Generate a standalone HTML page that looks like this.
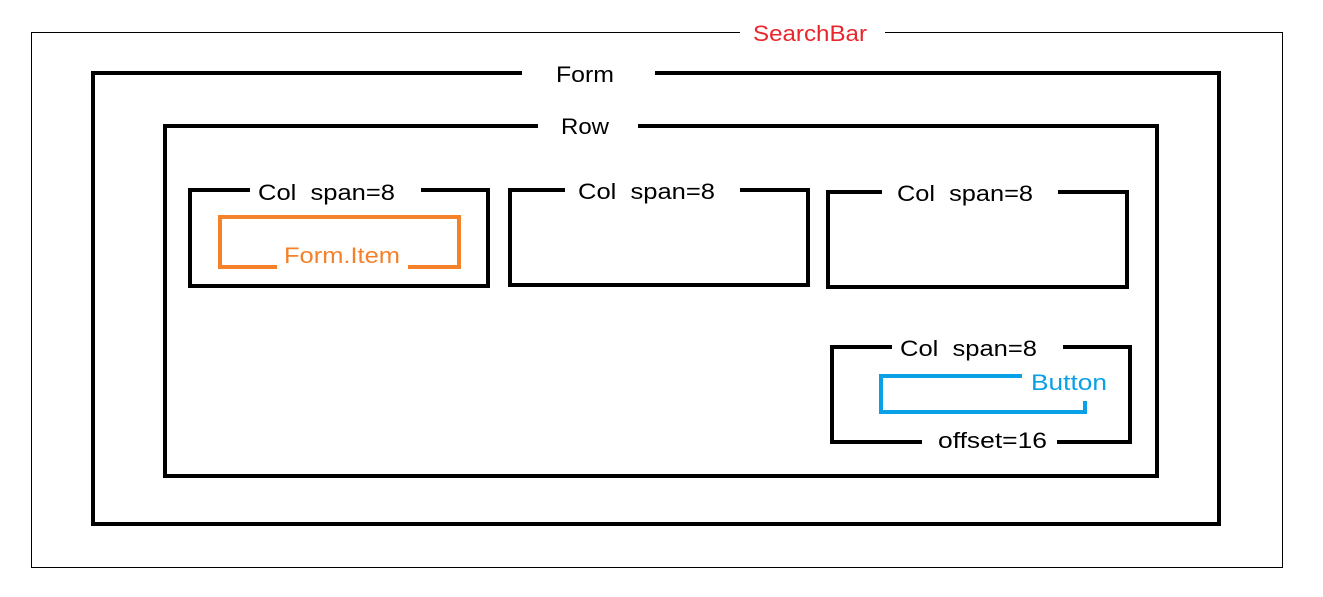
<!DOCTYPE html>
<html><head><meta charset="utf-8"><style>html,body{margin:0;padding:0;background:#fff;}svg{display:block}text{white-space:pre}</style></head>
<body>
<svg width="1323" height="597" xmlns="http://www.w3.org/2000/svg" xml:space="preserve" font-family="Liberation Sans, Noto Sans CJK SC, sans-serif" font-size="22">
<rect x="0" y="0" width="1323" height="597" fill="#fff"/>
<polyline points="740,32.5 31.5,32.5 31.5,567.5 1282.5,567.5 1282.5,32.5 885,32.5" fill="none" stroke="#000" stroke-width="1"/>
<text x="753" y="41" fill="#e8262b" textLength="114" lengthAdjust="spacingAndGlyphs">SearchBar</text>
<g fill="none" stroke="#000" stroke-width="4">
<polyline points="522,73 93,73 93,524 1219,524 1219,73 655,73"/>
<polyline points="538,126 165,126 165,476 1157,476 1157,126 638,126"/>
<polyline points="250,190 190,190 190,286 488,286 488,190 421,190"/>
<polyline points="565,190 510,190 510,285 808,285 808,190 740,190"/>
<polyline points="882,192 828,192 828,287 1127,287 1127,192 1058,192"/>
<polyline points="892,347 832,347 832,442 922,442"/>
<polyline points="1063,347 1130,347 1130,442 1057,442"/>
</g>
<polyline points="277,267 220,267 220,217 459,217 459,267 408,267" fill="none" stroke="#f5812a" stroke-width="4"/>
<polyline points="1022,376 881,376 881,412 1085,412 1085,401" fill="none" stroke="#0aa0e6" stroke-width="4"/>
<g fill="#000">
<text x="556" y="82" textLength="58" lengthAdjust="spacingAndGlyphs">Form</text>
<text x="561" y="134" textLength="48" lengthAdjust="spacingAndGlyphs">Row</text>
<text x="258" y="200" textLength="137" lengthAdjust="spacingAndGlyphs">Col  span=8</text>
<text x="578" y="199" textLength="137" lengthAdjust="spacingAndGlyphs">Col  span=8</text>
<text x="897" y="201" textLength="136" lengthAdjust="spacingAndGlyphs">Col  span=8</text>
<text x="900" y="356" textLength="137" lengthAdjust="spacingAndGlyphs">Col  span=8</text>
<text x="938" y="448" textLength="109" lengthAdjust="spacingAndGlyphs">offset=16</text>
</g>
<text x="284" y="263" fill="#f5812a" textLength="116" lengthAdjust="spacingAndGlyphs">Form.Item</text>
<text x="1031" y="390" fill="#0aa0e6" textLength="76" lengthAdjust="spacingAndGlyphs">Button</text>
</svg>
</body></html>
